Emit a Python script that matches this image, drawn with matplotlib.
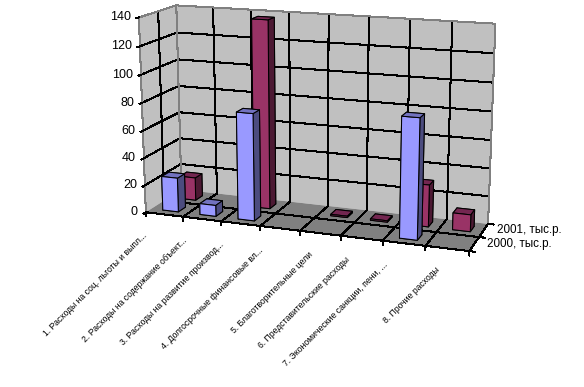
import numpy as np
import matplotlib
matplotlib.use('Agg')
import matplotlib.pyplot as plt
from mpl_toolkits.mplot3d import proj3d
from mpl_toolkits.mplot3d.art3d import Poly3DCollection

plt.rcParams['font.family'] = ['Liberation Sans', 'DejaVu Sans']

categories = ['1. Расходы на соц. льготы и выпл...', '2. Расходы на содержание объект...',
              '3. Расходы на развитие производ...', '4. Долгосрочные финансовые вл...',
              '5. Благотворительные цели', '6. Представительские расходы',
              '7. Экономические санкции, пени, ...', '8. Прочие расходы']
series_names = ['2000, тыс.р.', '2001, тыс.р.']
values_2000 = [25, 8, 77, 0, 0, 0, 84, 0]
values_2001 = [17, 0, 137, 0, 1, 1, 30, 12]
z_ticks = [0, 20, 40, 60, 80, 100, 120, 140]

W, H = 584, 387
fig = plt.figure(figsize=(W/100, H/100), dpi=100)
ax = fig.add_axes([17.258/W, 67.020/H, 1, 1], projection='3d', computed_zorder=False)
ax.set_xlim(0, 8, view_margin=0); ax.set_ylim(0, 2, view_margin=0); ax.set_zlim(0, 140, view_margin=0)
ax.set_axis_off()
ax.view_init(14.142, -70.127)
ax.set_proj_type('persp', focal_length=0.584)
ax.set_box_aspect((1, 0.246, 0.597), zoom=1.018)
ax.apply_aspect()

wall = '#c0c0c0'; floor = '#808080'
def poly(v, fc, z):
    ax.add_collection3d(Poly3DCollection([v], facecolor=fc, edgecolor='none', zorder=z))
poly([(0,0,0),(0,2,0),(0,2,140),(0,0,140)], wall, 1)
poly([(0,2,0),(8,2,0),(8,2,140),(0,2,140)], wall, 1)
poly([(0,0,0),(8,0,0),(8,2,0),(0,2,0)], floor, 1)
def ln(a, b, c='k', z=2):
    ax.plot(*zip(a, b), color=c, lw=0.75, zorder=z, antialiased=False)
for v in z_ticks[1:-1]:
    ln((0,0,v),(0,2,v)); ln((0,2,v),(8,2,v))
for i in range(1, 8):
    ln((i,2,0),(i,2,140)); ln((i,0,0),(i,2,0))
ln((0,1,0),(0,1,140))
ln((0,1,0),(8,1,0))
ln((0,0,0),(8,0,0)); ln((8,0,0),(8,2,0))
ln((0,2,0),(0,2,140),floor); ln((0,0,0),(0,0,140),floor); ln((0,0,140),(0,2,140),floor)
ln((0,2,140),(8,2,140),floor); ln((8,2,0),(8,2,140),floor)
for v in z_ticks:
    ln((0,0,v),(0,-.12,v))
for i in range(9):
    ln((i,0,0),(i,0,-3))
for j in range(3):
    ln((8,j,0),(8.13,j,0))

zo = 3
blue = ['#9999ff','#7272bf','#9999ff','#9999ff','#4c4c7f','#4c4c7f']
maroon = ['#993366','#732650','#993366','#993366','#4c1933','#4c1933']
for row, vals, cols in ((1, values_2001, maroon), (0, values_2000, blue)):
    for i, v in enumerate(vals):
        if v > 0:
            c = ax.bar3d(i+.31, row+.3, 0, .42, .4, v, color=cols, shade=False,
                         edgecolor='k', linewidth=.75)
            c.set_zorder(zo); zo += 1

M = ax.get_proj()
def note(txt, xyz, dx, dy, **kw):
    x, y, _ = proj3d.proj_transform(*xyz, M)
    ax.annotate(txt, xy=(x, y), xycoords='data', xytext=(dx*.72, dy*.72), textcoords='offset points',
                annotation_clip=False, **kw)
for v in z_ticks:
    note(str(v), (0,0,v), -8, 0, ha='right', va='center', fontsize=9)
label_dx = [-22,-20,-21,-21,-12,-17,-21,-12]
for i, t in enumerate(categories):
    note(t, (i+.5,0,0), label_dx[i], -17, ha='right', va='top', rotation=45,
         rotation_mode='anchor', fontsize=6.2)
for j, t in enumerate(series_names):
    note(t, (8,j+.5,0), 13, 0, ha='left', va='center', fontsize=8.4)
fig.savefig('out.png', dpi=100)
